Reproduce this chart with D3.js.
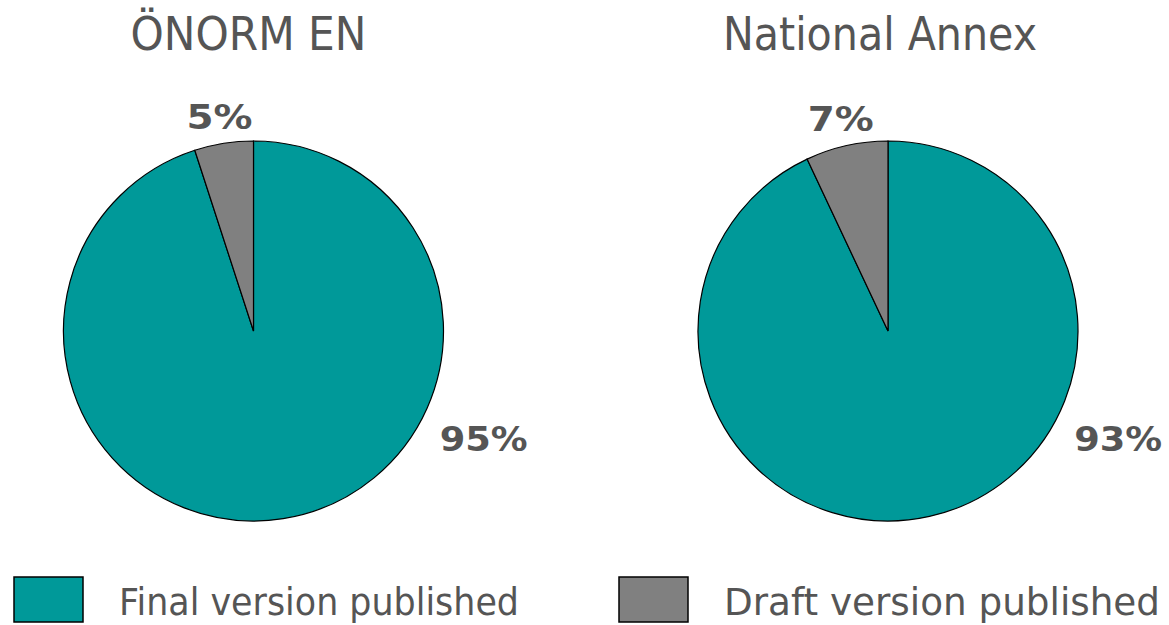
<!DOCTYPE html>
<html>
<head>
<meta charset="utf-8">
<script src="https://cdn.jsdelivr.net/npm/d3@7"></script>
<style>
  body { margin: 0; background: #fff; }
  svg { display: block; }
</style>
</head>
<body>
<script>
// data
const titles = ["ÖNORM EN", "National Annex"];
const categories = ["Final version published", "Draft version published"];
const finalShare = [95, 93];
const draftShare = [5, 7];

const colors = ["#009999", "#808080"];
const textColor = "#555555";

var width = 1169,
    height = 625;

const svg = d3.select("body").append("svg")
    .attr("width", width)
    .attr("height", height);

const radius = 190;
const centersX = [253.5, 888];
const centerY = 331;
const titleWidths = [236, 314];

const pie = d3.pie().sort(null).value(d => d.value);
const arc = d3.arc().innerRadius(0).outerRadius(radius);

titles.forEach((title, i) => {
    const values = [
        {name: categories[0], value: finalShare[i]},
        {name: categories[1], value: draftShare[i]}
    ];
    const g = svg.append("g")
        .attr("transform", `translate(${centersX[i]},${centerY})`);

    g.selectAll("path")
        .data(pie(values))
        .join("path")
        .attr("d", arc)
        .attr("fill", (d, j) => colors[j])
        .attr("stroke", "#000")
        .attr("stroke-width", 1.2);

    // title
    svg.append("text")
        .attr("x", centersX[i] - (i === 0 ? 5 : 8))
        .attr("y", 50)
        .attr("text-anchor", "middle")
        .attr("font-family", "DejaVu Sans")
        .attr("font-size", 46)
        .attr("fill", textColor)
        .attr("textLength", titleWidths[i])
        .attr("lengthAdjust", "spacingAndGlyphs")
        .text(title);

    // labels: small slice at its mid angle, big slice off to the right
    const arcs = pie(values);
    const small = d3.arc().innerRadius(217).outerRadius(217).centroid(arcs[1]);
    const bigR = 254, bigA = 115 * Math.PI / 180;
    const labelPos = [[bigR * Math.sin(bigA), -bigR * Math.cos(bigA)], small];
    g.selectAll("text.lbl")
        .data(arcs)
        .join("text")
        .attr("class", "lbl")
        .attr("x", (d, j) => labelPos[j][0])
        .attr("y", (d, j) => labelPos[j][1])
        .attr("dy", "0.36em")
        .attr("text-anchor", "middle")
        .attr("font-family", "DejaVu Sans")
        .attr("font-weight", "bold")
        .attr("font-size", 34)
        .attr("fill", textColor)
        .attr("textLength", d => (String(d.data.value).length + 2) * 22)
        .attr("lengthAdjust", "spacingAndGlyphs")
        .text(d => d.data.value + "%");
});

// legend
const legendX = [14, 619];
const legendTextW = [400, 436];
const legend = svg.append("g");
categories.forEach((c, i) => {
    legend.append("rect")
        .attr("x", legendX[i])
        .attr("y", 577)
        .attr("width", 69)
        .attr("height", 45)
        .attr("fill", colors[i])
        .attr("stroke", "#000")
        .attr("stroke-width", 1.5);
    legend.append("text")
        .attr("x", legendX[i] + 105)
        .attr("y", 615)
        .attr("font-family", "DejaVu Sans")
        .attr("font-size", 37)
        .attr("fill", textColor)
        .attr("textLength", legendTextW[i])
        .attr("lengthAdjust", "spacingAndGlyphs")
        .text(c);
});
</script>
</body>
</html>
